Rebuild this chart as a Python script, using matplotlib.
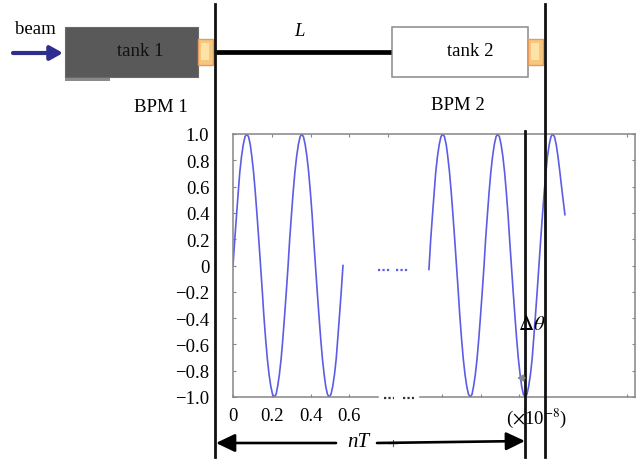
import matplotlib
matplotlib.use("Agg")
import matplotlib.pyplot as plt
from matplotlib.patches import Rectangle

plt.rcParams["font.family"] = ["Liberation Serif", "DejaVu Serif"]
plt.rcParams["mathtext.fontset"] = "stix"

# first part of the trace
x_start = [0, .009, .018, .027, .035, .044, .053, .062, .071, .080, .089, .097, .106, .115, .124, .133,
           .142, .151, .159, .168, .177, .186, .195, .204, .213, .222, .230, .239, .248, .257, .266, .275,
           .284, .292, .301, .310, .319, .328, .337, .346, .354, .363, .372, .381, .390, .399, .408, .416,
           .425, .434, .443, .452, .461, .470, .478, .487, .496, .505, .514, .523, .532, .540, .549, .558, .567]
y_start = [0, .195, .38, .556, .71, .83, .92, .98, 1, .98, .92, .83, .71, .556, .38, .195,
           0, -.195, -.38, -.556, -.71, -.83, -.92, -.98, -1, -.98, -.92, -.83, -.71, -.556, -.38, -.195,
           0, .195, .38, .556, .71, .83, .92, .98, 1, .98, .92, .83, .71, .556, .38, .195,
           0, -.195, -.38, -.556, -.71, -.83, -.92, -.98, -1, -.98, -.92, -.83, -.71, -.556, -.38, -.195, 0]

# second part, after the break
x_end = [1.010, 1.019, 1.028, 1.037, 1.045, 1.054, 1.063, 1.072, 1.081, 1.090, 1.099, 1.107, 1.116, 1.125, 1.134, 1.143,
         1.152, 1.161, 1.169, 1.178, 1.187, 1.196, 1.205, 1.214, 1.223, 1.232, 1.240, 1.249, 1.258, 1.267, 1.276, 1.285,
         1.294, 1.302, 1.311, 1.320, 1.329, 1.338, 1.347, 1.356, 1.364, 1.373, 1.382, 1.391, 1.400, 1.409, 1.418, 1.426,
         1.435, 1.444, 1.453, 1.462, 1.471, 1.480, 1.488, 1.497, 1.506, 1.515, 1.524, 1.533, 1.542, 1.550, 1.559, 1.568,
         1.577, 1.586, 1.595, 1.604, 1.613, 1.621, 1.630, 1.639, 1.648, 1.657, 1.666, 1.675, 1.685, 1.697, 1.711]
y_end = [-.03, .195, .38, .556, .71, .83, .92, .98, 1, .98, .92, .83, .71, .556, .38, .195,
         0, -.195, -.38, -.556, -.71, -.83, -.92, -.98, -1, -.98, -.92, -.83, -.71, -.556, -.38, -.195,
         0, .195, .38, .556, .71, .83, .92, .98, 1, .98, .92, .83, .71, .556, .38, .195,
         0, -.195, -.38, -.556, -.71, -.83, -.92, -.98, -1, -.98, -.92, -.83, -.71, -.556, -.38, -.195,
         0, .195, .38, .556, .71, .83, .92, .98, 1, .98, .92, .83, .71, .556, .386]

y_ticks = [-1.0, -0.8, -0.6, -0.4, -0.2, 0, 0.2, 0.4, 0.6, 0.8, 1.0]
y_tick_labels = ["\u22121.0", "\u22120.8", "\u22120.6", "\u22120.4", "\u22120.2", "0", "0.2", "0.4", "0.6", "0.8", "1.0"]
x_ticks_bottom = [0, 0.2, 0.4, 0.6, 1.076, 1.278, 1.474, 2.03]
x_tick_labels = ["0", "0.2", "0.4", "0.6", "", "", "", ""]
x_ticks_top = [0.2, 0.4, 0.6, 0.8, 2.03]

GREY = "#858585"
BLUE = "#5c5ce6"
W, H = 638, 460

fig = plt.figure(figsize=(W / 100, H / 100), dpi=100)

# the scope trace
ax = fig.add_axes([233 / W, 1 - 398 / H, 402 / W, 263 / H])
ax.plot(x_start, y_start, color=BLUE, lw=1.2)
ax.plot(x_end, y_end, color=BLUE, lw=1.2)
ax.set_xlim(0, 402 / 194)
ax.set_ylim(-1, 1)
ax.set_yticks(y_ticks)
ax.set_yticklabels(y_tick_labels, fontsize=13.5)
ax.set_xticks(x_ticks_bottom)
ax.set_xticklabels(x_tick_labels, fontsize=13.5)
ax.tick_params(axis="y", direction="in", length=2.5, width=0.8, color=GREY, right=True, pad=17)
ax.tick_params(axis="x", direction="in", length=2.5, width=0.8, color=GREY, pad=7.5)
for lab in ax.get_xticklabels()[1:4]:
    lab.set_x(lab.get_position()[0])
top = ax.secondary_xaxis("top")
top.set_xticks(x_ticks_top)
top.set_xticklabels([])
top.tick_params(direction="in", length=2.5, width=0.8, color=GREY)
top.spines["top"].set_visible(False)
for name in ["left", "right", "top"]:
    ax.spines[name].set_color(GREY)
    ax.spines[name].set_linewidth(1.1)
ax.spines["bottom"].set_visible(False)

# overlay in pixel coordinates for the machine sketch
ov = fig.add_axes([0, 0, 1, 1], facecolor="none")
ov.set_xlim(0, W)
ov.set_ylim(H, 0)
ov.axis("off")

# bottom axis with its gap, and the break dots
ov.plot([233, 378], [398, 398], color=GREY, lw=1.1)
ov.plot([420, 635], [398, 398], color=GREY, lw=1.1)
for x0, x1 in [(378, 391), (396, 409)]:
    ov.plot([x0, x1], [270.5, 270.5], color=BLUE, lw=1.6, ls=(0, (1, 1)))
for x0, x1 in [(384, 394), (403, 414)]:
    ov.plot([x0, x1], [399, 399], color="#333333", lw=1.6, ls=(0, (1, 1)))

# tanks
ov.add_patch(Rectangle((65, 78), 45, 4, fc="#8a8a8a", ec="none"))
ov.add_patch(Rectangle((65, 27.5), 133, 50.5, fc="#595959", ec="#6a6a6a", lw=0.8))
ov.add_patch(Rectangle((391.5, 27.5), 136.5, 50, fc="white", ec="#8a8a8a", lw=1.1))
for bx in [198, 528]:
    ov.add_patch(Rectangle((bx, 40), 14.5, 26, fc="#f8c77e", ec="#e59a62", lw=1.0))
    ov.add_patch(Rectangle((bx + 3, 44), 8, 17, fc="#fde3a6", ec="none"))

# beam pipe and the long markers
ov.plot([214, 391], [52.5, 52.5], color="black", lw=3.4, solid_capstyle="butt")
ov.plot([214.5, 214.5], [5, 458], color="#111111", lw=2.0)
ov.plot([544.6, 544.6], [5, 458], color="#111111", lw=2.0)
ov.plot([525, 525], [132, 458], color="#111111", lw=2.0)

# arrows
ov.annotate("", xy=(63, 54), xytext=(13, 54),
            arrowprops=dict(arrowstyle="-|>,head_length=0.75,head_width=0.42", color="#2e2e90", lw=3.0, shrinkA=0, shrinkB=0))
head = "-|>,head_length=1.15,head_width=0.55"
ov.annotate("", xy=(216, 444), xytext=(336, 444),
            arrowprops=dict(arrowstyle=head, color="black", lw=1.9, shrinkA=0, shrinkB=0))
ov.annotate("", xy=(525, 442), xytext=(377, 444),
            arrowprops=dict(arrowstyle=head, color="black", lw=1.9, shrinkA=0, shrinkB=0))
ov.annotate("", xy=(517, 379), xytext=(525, 379),
            arrowprops=dict(arrowstyle="-|>,head_length=0.35,head_width=0.2", color="#8a8a8a", lw=1.2, shrinkA=0, shrinkB=0))
ov.plot([388, 397], [444, 444], color="#555555", lw=1.0)
ov.plot([393, 393], [441, 447], color="#555555", lw=0.8)

# labels
fs = 13.5
ov.text(35, 30, "beam", ha="center", va="center", fontsize=fs)
ov.text(140, 52, "tank 1", ha="center", va="center", fontsize=fs, color="#111111")
ov.text(470, 52, "tank 2", ha="center", va="center", fontsize=fs)
ov.text(299, 32, "L", ha="center", va="center", fontsize=fs, style="italic")
ov.text(161, 107, "BPM 1", ha="center", va="center", fontsize=fs)
ov.text(458, 105, "BPM 2", ha="center", va="center", fontsize=fs)
ov.text(358, 443, "nT", ha="center", va="center", fontsize=15, style="italic")
ov.text(532, 326, r"$\mathit{\Delta\theta}$", ha="center", va="center", fontsize=15)
ov.text(537, 418, r"($\times$10$^{-8}$)", ha="center", va="center", fontsize=fs)

fig.savefig("out.png", dpi=100)
